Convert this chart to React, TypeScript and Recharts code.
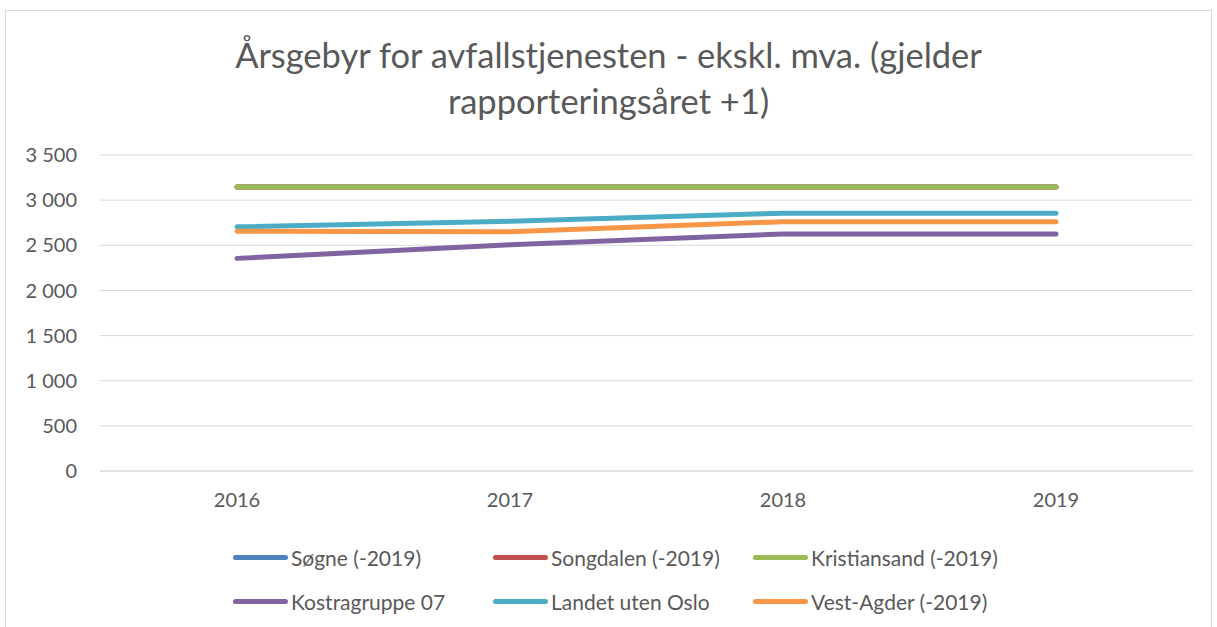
import { CartesianGrid, Line, LineChart, XAxis, YAxis } from "recharts";

const years = ["2016", "2017", "2018", "2019"];
const sogne = [3145, 3145, 3145, 3145];
const songdalen = [3145, 3145, 3145, 3145];
const kristiansand = [3145, 3145, 3145, 3145];
const kostragruppe07 = [2355, 2505, 2625, 2625];
const landetUtenOslo = [2705, 2765, 2855, 2855];
const vestAgder = [2655, 2650, 2762, 2762];
const yTicks = [0, 500, 1000, 1500, 2000, 2500, 3000, 3500];

const series = [
  { key: "sogne", name: "Søgne (-2019)", color: "#4f81bd", values: sogne },
  { key: "songdalen", name: "Songdalen (-2019)", color: "#c0504d", values: songdalen },
  { key: "kristiansand", name: "Kristiansand (-2019)", color: "#9bbb59", values: kristiansand },
  { key: "kostra", name: "Kostragruppe 07", color: "#8064a2", values: kostragruppe07 },
  { key: "landet", name: "Landet uten Oslo", color: "#4bacc6", values: landetUtenOslo },
  { key: "vestagder", name: "Vest-Agder (-2019)", color: "#f79646", values: vestAgder },
];

const data = years.map((year, i) => {
  const row: Record<string, string | number> = { year };
  series.forEach((s) => (row[s.key] = s.values[i]));
  return row;
});

const font = "Lato, 'Noto Sans', sans-serif";
const textColor = "#595959";

// "3 500" style, space as thousands separator
const formatTick = (v: number) =>
  v >= 1000 ? `${Math.floor(v / 1000)} ${String(v % 1000).padStart(3, "0")}` : String(v);

export default function App() {
  return (
    <div
      style={{
        position: "absolute",
        left: 5,
        top: 10,
        width: 1205,
        height: 630,
        border: "1px solid #d9d9d9",
        background: "#fff",
        fontFamily: font,
      }}
    >
      <div
        style={{
          position: "absolute",
          top: 21,
          left: 0,
          width: "100%",
          textAlign: "center",
          fontSize: 34.5,
          lineHeight: "46px",
          color: textColor,
        }}
      >
        Årsgebyr for avfallstjenesten - ekskl. mva. (gjelder
        <br />
        rapporteringsåret +1)
      </div>
      <LineChart
        width={1205}
        height={520}
        data={data}
        margin={{ top: 144, right: 18, bottom: 0, left: 0 }}
      >
        <CartesianGrid stroke="#d9d9d9" vertical={false} />
        <XAxis
          dataKey="year"
          padding={{ left: 137, right: 137 }}
          tickLine={false}
          axisLine={{ stroke: "#d9d9d9" }}
          tick={{ fill: textColor, fontSize: 20, fontFamily: font }}
          tickMargin={16}
          height={60}
        />
        <YAxis
          domain={[0, 3500]}
          ticks={yTicks}
          tickFormatter={formatTick}
          width={94}
          axisLine={false}
          tickLine={false}
          tick={{ fill: textColor, fontSize: 20, fontFamily: font }}
          tickMargin={17}
        />
        {series.map((s) => (
          <Line
            key={s.key}
            dataKey={s.key}
            name={s.name}
            stroke={s.color}
            strokeWidth={5}
            strokeLinecap="round"
            strokeLinejoin="round"
            dot={false}
            type="linear"
            isAnimationActive={false}
          />
        ))}
      </LineChart>
      <div
        style={{
          position: "absolute",
          left: 227,
          top: 524,
          display: "grid",
          gridTemplateColumns: "260px 260px 260px",
          fontSize: 21,
          color: textColor,
        }}
      >
        {series.map((s) => (
          <div
            key={s.key}
            style={{ display: "flex", alignItems: "center", height: 44, whiteSpace: "nowrap" }}
          >
            <span
              style={{
                display: "inline-block",
                width: 55,
                height: 5,
                borderRadius: 3,
                background: s.color,
                marginRight: 3,
              }}
            />
            {s.name}
          </div>
        ))}
      </div>
    </div>
  );
}
